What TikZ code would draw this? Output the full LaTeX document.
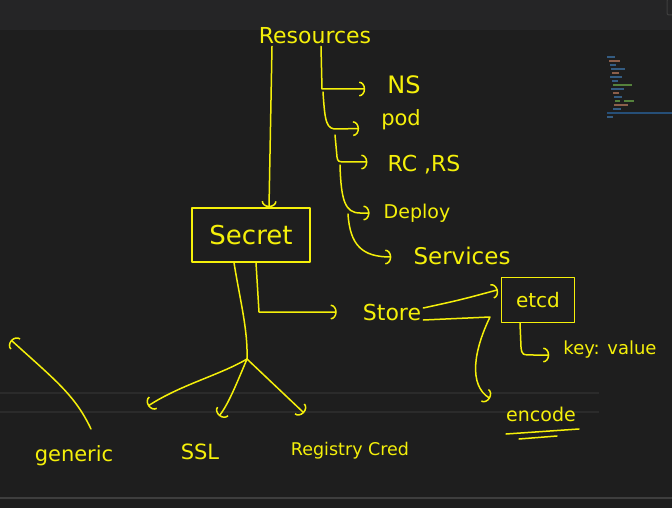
\documentclass[tikz,border=0pt]{standalone}
\usepackage{fontspec}
\setmainfont{DejaVu Sans}
\usetikzlibrary{arrows.meta}
\definecolor{bgc}{RGB}{30,30,30}
\definecolor{topc}{RGB}{37,37,38}
\definecolor{rulec}{RGB}{43,43,43}
\definecolor{botc}{RGB}{62,62,62}
\definecolor{inkc}{RGB}{245,240,10}
\definecolor{mmblue}{RGB}{52,92,130}
\definecolor{mmbrown}{RGB}{140,95,75}
\definecolor{mmgreen}{RGB}{85,130,60}
\definecolor{mmsel}{RGB}{38,79,120}
\begin{document}
\begin{tikzpicture}[x=1pt,y=-1pt,
  ink/.style={draw=inkc, line width=1.5pt, line cap=round, line join=round},
  arr/.style={ink, -{Arc Barb[length=6pt,width=15pt,line width=1.5pt]}},
  gap/.style={shorten >=#1},
  lbl/.style={text=inkc, font=\fontsize{20}{22}\selectfont, inner sep=2pt},
  fs/.style={font=\fontsize{#1}{#1}\selectfont},
  boxed/.style={ink, text=inkc, inner sep=2pt}]
\useasboundingbox (0,0) rectangle (672,508);
% background
\fill[bgc] (-5,-5) rectangle (677,513);
\fill[topc] (-5,-5) rectangle (677,30);
\draw[rulec, line width=1.5pt] (-2,393) -- (599,393);
\draw[rulec, line width=1.5pt] (-2,412) -- (599,412);
\draw[botc, line width=1.2pt] (-2,498) -- (674,498);
\draw[botc, line width=1pt, rounded corners=2pt] (675,-1) -- (667,-1) -- (667,15) -- (675,15);
% minimap
\foreach \y/\a/\b/\c in {56/607/615/mmblue, 60/609/620/mmbrown, 64/610/616/mmblue, 68/611/625/mmblue,
  72/612/619/mmbrown, 76/610/622/mmblue, 80/612/618/mmblue, 84/613/620/mmgreen, 88/611/624/mmblue,
  92/613/619/mmbrown, 96/614/622/mmblue, 100/615/620/mmgreen, 104/614/628/mmbrown, 108/613/621/mmblue, 116/607/613/mmblue}
  \fill[\c] (\a,\y) rectangle (\b,\y+2.5);
\fill[mmgreen] (620,84) rectangle (632,86);
\fill[mmgreen] (624,100) rectangle (634,102);
\fill[mmsel] (607,112) rectangle (672,114);
% labels
\node[lbl, fs=22] (res) at (315,36) {Resources};
\node[lbl, fs=24] (ns) at (404,85) {NS};
\node[lbl, fs=21] (pod) at (401,120) {pod};
\node[lbl, fs=22] (rc) at (424,165) {RC ,RS};
\node[lbl, fs=19] (deploy) at (417,213) {Deploy};
\node[lbl, fs=23] (svc) at (462,256) {Services};
\node[boxed, fs=26, minimum width=118pt, minimum height=54pt] (secret) at (251,235) {Secret};
\node[lbl, fs=22] (store) at (392,312) {Store};
\node[boxed, fs=20, minimum width=73pt, minimum height=45pt] (etcd) at (538,300) {etcd};
\node[lbl, fs=18] (kv) at (610,350) {key: value};
\node[lbl, fs=19] (enc) at (541,414) {encode};
\node[lbl, fs=21] (gen) at (74,456) {generic};
\node[lbl, fs=21] (ssl) at (200,452) {SSL};
\node[lbl, fs=17.5] (reg) at (350,451) {Registry Cred};
% underline of encode
\draw[ink] (506,434) -- (579,429);
\draw[ink] (519,439) -- (557,436);
% Resources -> Secret
\draw[arr] ([xshift=-43pt]res.south) -- ([xshift=18pt]secret.north);
% Resources tree
\draw[arr, gap=20pt] ([xshift=6pt]res.south) -- (322,89) -- (ns.west |- 0,89);
\draw[arr, gap=20pt] (323,92) .. controls (325,122) and (326,130) .. (338,129) -- (pod.west |- 0,128);
\draw[arr, gap=18pt] (335,135) -- (337,157) .. controls (338,162) .. (348,162) -- (rc.west |- 0,162);
\draw[arr, gap=12pt] (340,165) .. controls (341,200) and (345,213) .. (360,213) -- (deploy.west |- 0,213);
\draw[arr, gap=20pt] (348,214) .. controls (350,245) and (362,257) .. (svc.west |- 0,257);
% Secret -> Store
\draw[arr, gap=24pt] ([xshift=5pt]secret.south) -- (259,312) -- (store.west);
% Store -> etcd
\draw[arr, gap=3pt] ([yshift=4pt]store.east) .. controls (460,300) .. (etcd.west |- 0,289);
% Store -> encode
\coordinate (encin) at ([xshift=-14pt,yshift=6pt]enc.north west);
\draw[arr] ([yshift=-8pt]store.east) -- (490,317) .. controls (474,350) and (468,385) .. (encin);
% etcd -> key:value
\draw[arr, gap=12pt] ([xshift=-18pt]etcd.south) -- (521,347) .. controls (522,355) .. (534,355) -- (kv.west |- 0,355);
% Secret -> branches
\coordinate (br) at (247,359);
\draw[ink] ([xshift=-17pt]secret.south) .. controls (240,300) and (248,330) .. (br);
\coordinate (bl) at (148,406);
\coordinate (bm) at (219,416);
\coordinate (brr) at (304,413);
\draw[arr] (br) .. controls (220,375) and (180,385) .. (bl);
\draw[arr] (br) .. controls (236,385) and (228,405) .. (bm);
\draw[arr] (br) -- (brr);
% generic arrow
\coordinate (gtip) at (11,340);
\draw[arr] (91,429) .. controls (75,395) and (55,380) .. (gtip);
\end{tikzpicture}
\end{document}
